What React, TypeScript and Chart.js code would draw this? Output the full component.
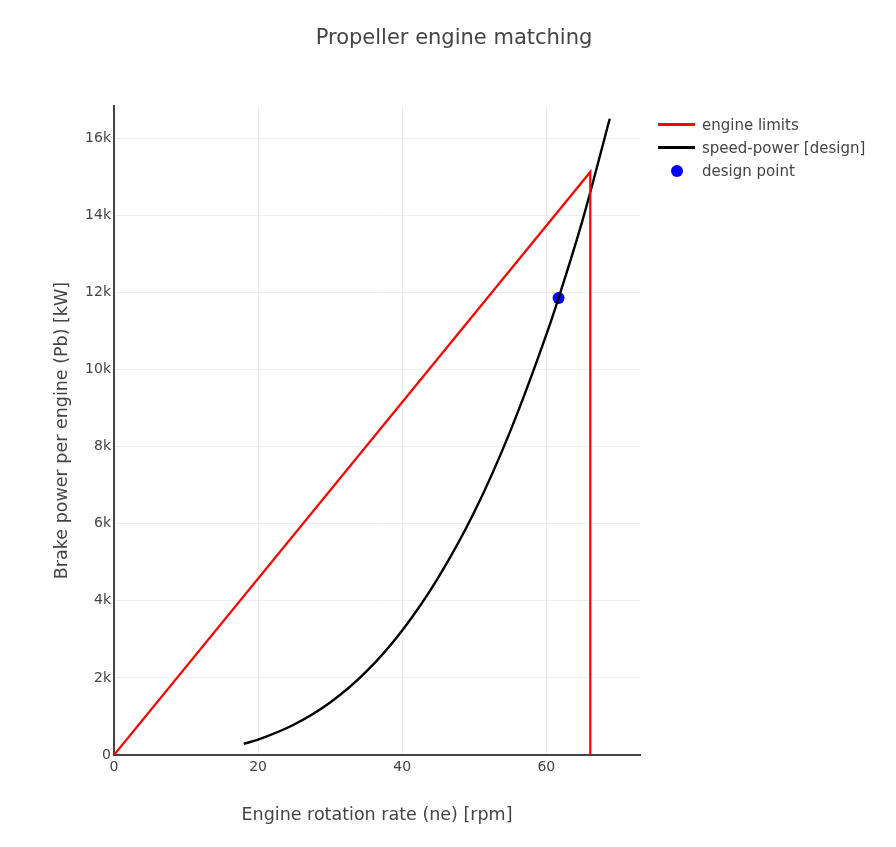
import { useEffect, useRef } from "react";
import Chart from "chart.js/auto";

// engine limit envelope (rpm, kW)
const limitRpm = [0, 66.1, 66.1];
const limitPower = [0, 15120, 0];

// propeller speed-power curve
const curveRpm = [18, 20, 25, 30, 35, 40, 45, 50, 55, 60, 61.7, 65, 68.8];
const curvePower = [290, 400, 790, 1360, 2160, 3230, 4600, 6300, 8400, 10900, 11850, 13850, 16500];

// design point
const designRpm = [61.7];
const designPower = [11850];

const xTicks = [0, 20, 40, 60];
const yTicks = [0, 2000, 4000, 6000, 8000, 10000, 12000, 14000, 16000];
const yTickLabels = ["0", "2k", "4k", "6k", "8k", "10k", "12k", "14k", "16k"];

const legendItems = [
  { label: "engine limits", color: "#ff0000", kind: "line" },
  { label: "speed-power [design]", color: "#000000", kind: "line" },
  { label: "design point", color: "#0000ff", kind: "dot" },
];

const FONT = '"DejaVu Sans", verdana, arial, sans-serif';

const toXY = (xs: number[], ys: number[]) => xs.map((x, i) => ({ x, y: ys[i] }));

export default function App() {
  const canvasRef = useRef<HTMLCanvasElement>(null);
  const chartRef = useRef<Chart | null>(null);

  useEffect(() => {
    if (!canvasRef.current) return;
    chartRef.current?.destroy();

    chartRef.current = new Chart(canvasRef.current, {
      type: "scatter",
      data: {
        datasets: [
          {
            label: "engine limits",
            data: toXY(limitRpm, limitPower),
            showLine: true,
            borderColor: "#ff0000",
            borderWidth: 2.2,
            pointRadius: 0,
            tension: 0,
          },
          {
            label: "speed-power [design]",
            data: toXY(curveRpm, curvePower),
            showLine: true,
            borderColor: "#000000",
            borderWidth: 2.4,
            pointRadius: 0,
            cubicInterpolationMode: "monotone",
          },
          {
            label: "design point",
            data: toXY(designRpm, designPower),
            backgroundColor: "#0000ff",
            borderColor: "#0000ff",
            pointRadius: 6,
            borderWidth: 0,
          },
        ],
      },
      options: {
        animation: false,
        responsive: false,
        layout: { padding: { left: 0, right: 248, top: 98, bottom: 0 } },
        plugins: {
          legend: { display: false },
          tooltip: { enabled: false },
        },
        scales: {
          x: {
            type: "linear",
            min: 0,
            max: 73,
            afterFit: (s: any) => {
              s.height = 84;
            },
            afterBuildTicks: (s: any) => {
              s.ticks = xTicks.map((v) => ({ value: v }));
            },
            grid: { color: "#eeeeee", lineWidth: 1, drawTicks: false },
            border: { display: true, color: "#444", width: 2 },
            ticks: {
              color: "#444",
              font: { family: FONT, size: 14 },
              padding: 4,
              maxRotation: 0,
            },
            title: {
              display: true,
              text: "Engine rotation rate (ne) [rpm]",
              color: "#444",
              font: { family: FONT, size: 17.5 },
              padding: { top: 0, bottom: 13 },
            },
          },
          y: {
            type: "linear",
            min: 0,
            max: 16830,
            afterFit: (s: any) => {
              s.width = 106;
            },
            afterBuildTicks: (s: any) => {
              s.ticks = yTicks.map((v) => ({ value: v }));
            },
            grid: { color: "#eeeeee", lineWidth: 1, drawTicks: false },
            border: { display: true, color: "#444", width: 2 },
            ticks: {
              color: "#444",
              font: { family: FONT, size: 14 },
              padding: 3,
              callback: (v: any) => {
                const i = yTicks.indexOf(Number(v));
                return i >= 0 ? yTickLabels[i] : "";
              },
            },
            title: {
              display: true,
              text: "Brake power per engine (Pb) [kW]",
              color: "#444",
              font: { family: FONT, size: 17.5 },
              padding: { top: 44, bottom: 0 },
            },
          },
        },
      },
    });

    return () => {
      chartRef.current?.destroy();
      chartRef.current = null;
    };
  }, []);

  return (
    <div style={{ position: "relative", width: 880, height: 831 }}>
      <canvas ref={canvasRef} width={880} height={831} style={{ display: "block" }} />
      <div
        style={{
          position: "absolute",
          left: 6,
          top: 15,
          width: 880,
          textAlign: "center",
          fontFamily: FONT,
          fontSize: 21,
          lineHeight: "28px",
          color: "#444",
        }}
      >
        Propeller engine matching
      </div>
      <div style={{ position: "absolute", left: 650, top: 105, fontFamily: FONT, fontSize: 15, color: "#444" }}>
        {legendItems.map((it) => (
          <div key={it.label} style={{ display: "flex", alignItems: "center", height: 23 }}>
            <div style={{ width: 37, display: "flex", justifyContent: "center", marginRight: 7 }}>
              {it.kind === "line" ? (
                <div style={{ width: 37, height: 2.5, background: it.color }} />
              ) : (
                <div style={{ width: 12, height: 12, borderRadius: 6, background: it.color }} />
              )}
            </div>
            <span>{it.label}</span>
          </div>
        ))}
      </div>
    </div>
  );
}
